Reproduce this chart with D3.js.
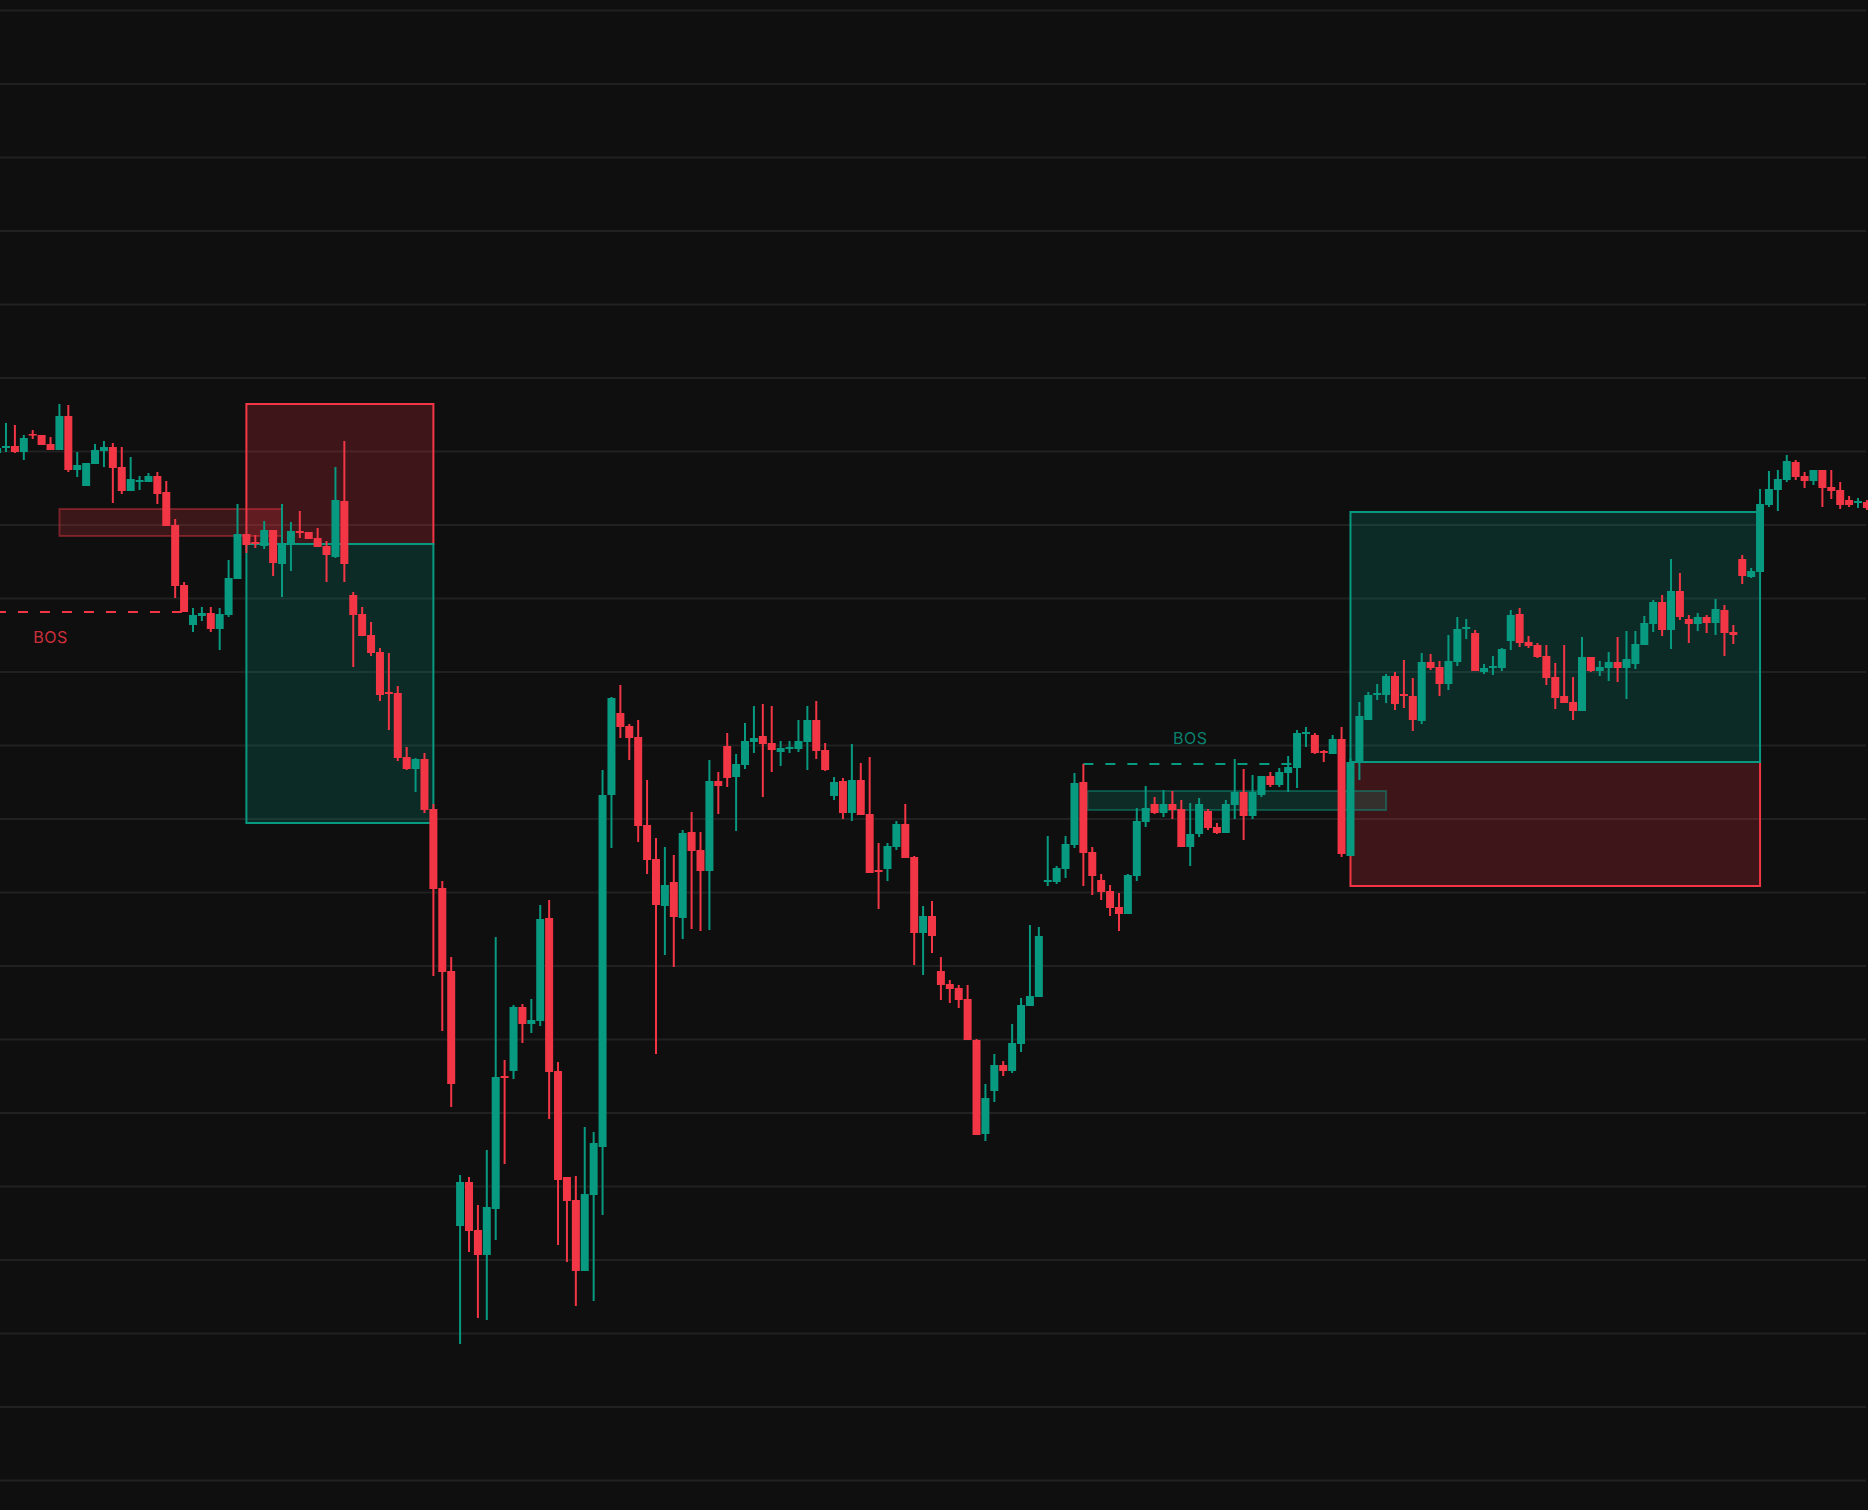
<!DOCTYPE html>
<html><head><meta charset="utf-8">
<script src="https://cdn.jsdelivr.net/npm/d3@7"></script>
<style>html,body{margin:0;padding:0;background:#0f0f0f;}svg{display:block}</style>
</head><body>
<svg id="chart" width="1868" height="1510"></svg>
<script>
// ---- data (index = bar number, prices in chart units) ----
const open = [1027,1032,1034,1028,1046,1045,1036,1030,1064,1010,994,1016,1029,1033,1013,989,998,998,1004,988,
955,895,855,864,867,851,865,901,946,938,934,950,916,936,949,948,942,934,923,979,
885,866,845,828,788,787,723,711,721,671,592,509,254,298,250,225,271,404,409,473,
456,459,562,409,303,280,209,285,333,685,767,754,743,655,621,574,598,562,648,630,
609,699,734,703,715,738,744,737,728,731,731,738,760,730,684,699,667,700,666,610,
611,633,656,623,547,564,509,496,492,481,440,346,389,415,409,436,474,483,598,598,
611,635,698,628,600,589,573,566,604,658,676,667,676,671,633,646,669,653,647,675,
688,664,685,704,695,707,712,746,745,729,726,741,624,718,760,785,785,804,786,784,
759,818,813,796,818,851,847,808,812,812,839,866,838,835,824,803,784,778,769,823,
809,812,818,812,816,835,856,878,850,889,861,856,863,857,870,848,921,903,908,975,
990,1000,1018,1004,999,1010,993,990,980,977,978];
const high = [1035,1057,1055,1045,1050,1045,1043,1076,1075,1028,1017,1036,1039,1037,1033,1023,1004,1007,1008,999,
961,898,872,873,873,872,920,976,946,945,959,950,976,958,969,948,952,939,1013,1039,
888,873,858,832,827,794,733,722,727,676,599,523,305,303,275,330,543,420,475,476,
481,575,580,418,303,304,353,348,710,783,795,756,760,700,642,633,625,650,668,648,
720,708,747,726,757,774,776,774,739,739,760,774,779,737,703,702,736,717,723,637,
637,659,676,624,574,579,523,500,495,495,441,396,426,419,456,482,555,553,644,614,
644,707,716,633,606,595,587,606,672,694,683,690,689,680,677,682,671,657,680,721,
711,705,704,708,712,724,750,753,747,730,745,753,722,778,788,796,806,808,820,802,
827,826,819,845,863,861,850,816,824,832,870,872,844,837,835,817,835,803,843,823,
819,828,843,849,849,864,880,885,921,907,865,867,865,881,875,855,925,912,991,1009,
1010,1025,1020,1008,1010,1010,1010,998,984,982,980];
const low = [1024,1028,1027,1020,1041,1035,1030,1030,1008,1003,994,1016,1013,977,986,989,990,998,976,954,
882,868,848,859,848,830,863,901,927,932,931,904,883,909,942,941,933,898,922,898,
813,844,824,779,750,719,710,688,667,504,449,373,136,228,162,160,240,316,401,437,
447,454,361,235,218,174,209,179,265,632,742,720,638,606,426,525,513,541,551,549,
550,666,693,649,711,727,683,708,714,727,728,710,721,709,680,661,659,665,607,571,
599,630,622,515,505,527,480,477,472,440,345,339,378,404,407,428,474,483,594,596,
602,632,594,585,580,564,549,566,599,653,666,663,661,633,614,643,650,646,647,661,
640,661,683,693,693,688,692,733,726,718,726,623,624,700,760,780,777,770,772,749,
756,810,784,790,814,841,809,806,805,809,830,833,832,822,795,771,777,760,769,808,
804,799,798,781,811,835,848,844,831,860,837,849,847,845,824,836,896,902,908,973,
969,998,1000,992,995,973,981,971,973,972,970];
const close = [1032,1034,1028,1042,1045,1035,1030,1064,1010,1015,1017,1030,1033,1012,989,1001,1000,1004,986,954,
894,868,865,867,851,866,902,946,935,936,950,917,936,949,947,941,933,925,980,916,
865,844,827,785,786,722,711,721,670,591,508,396,298,249,225,273,403,402,473,456,
460,561,408,300,279,209,286,337,685,782,753,742,654,620,575,595,563,647,629,609,
699,694,702,716,739,742,736,730,732,733,739,760,729,710,698,667,700,665,607,608,
634,656,622,547,564,544,495,491,480,440,345,382,415,409,437,475,484,544,600,612,
636,697,627,604,588,572,566,605,659,672,667,676,670,633,646,676,652,647,676,688,
664,688,704,695,708,713,747,748,727,727,741,626,718,764,785,787,804,776,784,760,
818,812,796,819,851,853,809,812,814,831,865,837,834,823,802,782,777,769,823,809,
813,818,812,821,836,857,878,850,889,863,856,863,857,871,847,845,904,909,976,991,
1001,1019,1003,999,1010,992,989,975,975,979,972];

// horizontal grid levels
const gridLevels = [0,73.5,147,220.5,294,367.5,441,514.5,588,661.5,735,808.5,882,955.5,1029,1102.5,1176,1249.5,1323,1396.5,1470];

// zones: bar-index extent and price extent
const bigZones = [
  {x0: 28, x1: 49, top: 1076, bottom: 936, side: "bear"},
  {x0: 152, x1: 198, top: 718, bottom: 594, side: "bear"},
  {x0: 28, x1: 49, top: 936, bottom: 657, side: "bull"},
  {x0: 152, x1: 198, top: 968, bottom: 718, side: "bull"}
];
const smallZones = [
  {x0: 7, x1: 32, top: 971, bottom: 944, side: "bear"},
  {x0: 122.45, x1: 156, top: 689, bottom: 670, side: "bull"}
];
const bosLines = [
  {from: -9, to: 21, price: 868, side: "bear", label: "BOS"},
  {from: 122, to: 146, price: 716, side: "bull", label: "BOS"}
];

// ---- drawing ----
const W = 1868, H = 1510;
const RED = "#f23645", TEAL = "#089981";
const col = s => s === "bull" ? TEAL : RED;
const rgba = (s, a) => s === "bull" ? `rgba(8,153,129,${a})` : `rgba(242,54,69,${a})`;

const svg = d3.select("#chart");
svg.append("rect").attr("width", W).attr("height", H).attr("fill", "#0f0f0f");

const x = d3.scaleLinear().domain([0, 210]).range([-2.9, 1866.9]);
const y = d3.scaleLinear().domain([0, 1470]).range([1480, 10]);

// grid via axis
const gridAxis = d3.axisLeft(y).tickValues(gridLevels).tickSize(-1866).tickFormat("");
const gg = svg.append("g").attr("transform", "translate(0,0)").call(gridAxis);
gg.select(".domain").remove();
gg.selectAll(".tick line").attr("stroke", "#212121").attr("stroke-width", 2);

// big zones
svg.append("g").selectAll("rect").data(bigZones).join("rect")
  .attr("x", d => x(d.x0)).attr("width", d => x(d.x1) - x(d.x0))
  .attr("y", d => y(d.top)).attr("height", d => y(d.bottom) - y(d.top))
  .attr("fill", d => rgba(d.side, 0.21))
  .attr("stroke", d => col(d.side)).attr("stroke-width", 2);

// small zones
svg.append("g").selectAll("rect").data(smallZones).join("rect")
  .attr("x", d => x(d.x0)).attr("width", d => x(d.x1) - x(d.x0))
  .attr("y", d => y(d.top)).attr("height", d => y(d.bottom) - y(d.top))
  .attr("fill", d => rgba(d.side, 0.2))
  .attr("stroke", d => rgba(d.side, d.side === "bull" ? 0.45 : 0.4)).attr("stroke-width", 2);

// BOS dashed lines
svg.append("g").selectAll("line").data(bosLines).join("line")
  .attr("x1", d => x(d.from)).attr("x2", d => x(d.to))
  .attr("y1", d => y(d.price)).attr("y2", d => y(d.price))
  .attr("stroke", d => col(d.side)).attr("stroke-width", 2)
  .attr("stroke-dasharray", "10 12")
  .attr("stroke-dashoffset", d => d.side === "bear" ? 9 : 0);

// candles
const bars = open.map((o, i) => ({i, o, h: high[i], l: low[i], c: close[i]}));
const cg = svg.append("g");
cg.selectAll("line").data(bars).join("line")
  .attr("x1", d => x(d.i)).attr("x2", d => x(d.i))
  .attr("y1", d => y(d.h)).attr("y2", d => y(d.l))
  .attr("stroke", d => d.c >= d.o ? TEAL : RED).attr("stroke-width", 2);
const bw = 8;
cg.selectAll("rect").data(bars).join("rect")
  .attr("x", d => x(d.i) - bw / 2).attr("width", bw)
  .attr("y", d => y(Math.max(d.o, d.c)))
  .attr("height", d => Math.max(1.6, Math.abs(y(d.o) - y(d.c))))
  .attr("fill", d => d.c >= d.o ? TEAL : RED);

// BOS labels
svg.append("g").selectAll("text").data(bosLines).join("text")
  .attr("x", d => (x(d.from) + x(d.to)) / 2)
  .attr("y", d => d.side === "bear" ? y(d.price) + 31 : y(d.price) - 20)
  .attr("text-anchor", "middle")
  .attr("font-family", "Inter, 'Noto Sans', sans-serif")
  .attr("font-size", 16)
  .attr("letter-spacing", 0.5)
  .attr("fill", d => col(d.side)).attr("fill-opacity", 0.85)
  .text(d => d.label);
</script>
</body></html>
